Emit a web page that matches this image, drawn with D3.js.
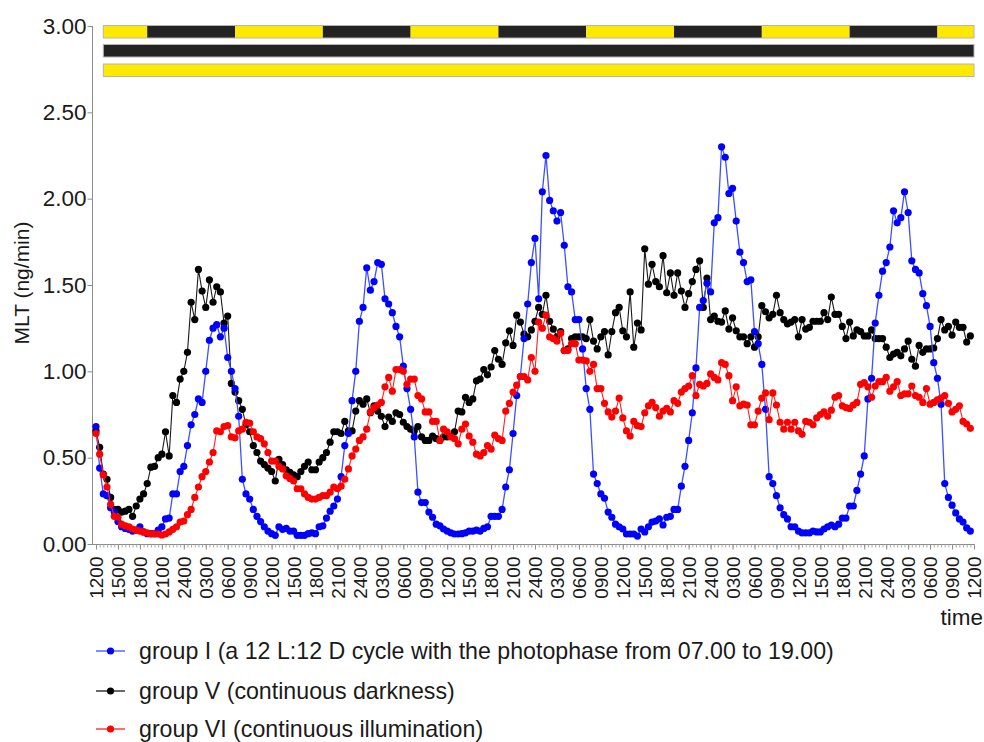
<!DOCTYPE html>
<html>
<head>
<meta charset="utf-8">
<script src="https://cdn.jsdelivr.net/npm/d3@7"></script>
<style>
  html, body { margin: 0; padding: 0; background: #fff; }
  svg { display: block; font-family: "Liberation Sans", Arial, sans-serif; }
</style>
</head>
<body>
<svg id="chart" width="984" height="742"></svg>
<script>
// Melatonin (MLT, ng/min) sampled every 30 min from 12:00 on day 1 (index 0)
const groupI = [
  0.68,0.44,0.29,0.28,0.21,0.185,0.13,0.10,0.09,0.085,
  0.075,0.08,0.10,0.07,0.06,0.06,0.06,0.08,0.10,0.145,
  0.15,0.29,0.29,0.42,0.45,0.57,0.69,0.75,0.84,0.82,
  1.00,1.18,1.25,1.27,1.20,1.25,1.08,1.00,0.90,0.74,
  0.375,0.29,0.26,0.20,0.16,0.13,0.10,0.075,0.06,0.05,
  0.10,0.085,0.09,0.075,0.075,0.05,0.05,0.05,0.06,0.065,
  0.06,0.10,0.105,0.15,0.19,0.22,0.26,0.39,0.57,0.64,
  0.83,1.00,1.29,1.37,1.60,1.47,1.52,1.63,1.62,1.42,
  1.39,1.34,1.26,1.20,1.03,0.90,0.78,0.62,0.30,0.24,
  0.24,0.185,0.155,0.115,0.105,0.087,0.075,0.065,0.058,0.058,
  0.06,0.065,0.075,0.075,0.08,0.075,0.09,0.10,0.16,0.16,
  0.16,0.20,0.33,0.43,0.64,0.86,0.97,1.19,1.39,1.63,
  1.77,1.42,2.04,2.25,1.99,1.93,1.87,1.92,1.73,1.49,
  1.46,1.30,1.30,1.13,0.90,0.78,0.405,0.35,0.29,0.265,
  0.185,0.155,0.115,0.10,0.087,0.058,0.058,0.058,0.046,0.087,
  0.07,0.10,0.127,0.133,0.145,0.11,0.155,0.16,0.20,0.20,
  0.335,0.45,0.60,0.76,1.02,1.37,1.41,1.51,1.46,1.86,
  1.89,2.30,2.24,2.03,2.06,1.87,1.69,1.63,1.52,1.53,
  1.23,1.16,1.04,0.78,0.39,0.35,0.28,0.21,0.17,0.145,
  0.10,0.10,0.075,0.064,0.064,0.064,0.075,0.07,0.07,0.087,
  0.10,0.11,0.10,0.115,0.15,0.15,0.22,0.22,0.31,0.405,
  0.51,0.84,0.96,1.28,1.44,1.58,1.63,1.72,1.93,1.86,
  1.89,2.04,1.92,1.64,1.59,1.57,1.45,1.38,1.26,1.05,
  0.96,0.81,0.35,0.27,0.225,0.18,0.145,0.127,0.093,0.075
];

const groupV = [
  0.655,0.56,0.405,0.375,0.27,0.20,0.20,0.185,0.19,0.20,
  0.16,0.22,0.26,0.29,0.35,0.445,0.45,0.50,0.52,0.65,
  0.51,0.86,0.82,0.955,1.00,1.11,1.40,1.30,1.59,1.465,
  1.37,1.53,1.40,1.49,1.46,1.28,1.32,0.93,0.88,0.83,
  0.78,0.69,0.65,0.57,0.53,0.48,0.46,0.44,0.42,0.365,
  0.49,0.46,0.43,0.415,0.40,0.39,0.42,0.45,0.475,0.43,
  0.43,0.475,0.50,0.53,0.59,0.65,0.65,0.64,0.71,0.655,
  0.655,0.77,0.83,0.81,0.84,0.76,0.80,0.77,0.74,0.68,
  0.735,0.71,0.76,0.75,0.705,0.68,0.665,0.655,0.68,0.62,
  0.60,0.60,0.625,0.61,0.60,0.62,0.62,0.625,0.65,0.77,
  0.765,0.85,0.82,0.84,0.945,0.955,1.01,0.98,1.025,1.12,
  1.07,1.04,1.165,1.235,1.15,1.325,1.285,1.215,1.20,1.24,
  1.29,1.37,1.33,1.44,1.29,1.245,1.20,1.23,1.12,1.13,
  1.19,1.20,1.20,1.20,1.19,1.30,1.175,1.13,1.20,1.23,
  1.095,1.23,1.34,1.37,1.235,1.20,1.46,1.14,1.28,1.24,
  1.71,1.505,1.62,1.52,1.49,1.67,1.455,1.57,1.44,1.57,
  1.465,1.37,1.45,1.52,1.59,1.64,1.37,1.54,1.30,1.32,
  1.29,1.285,1.35,1.245,1.31,1.235,1.20,1.20,1.16,1.20,
  1.14,1.20,1.38,1.345,1.31,1.33,1.44,1.34,1.30,1.275,
  1.285,1.30,1.20,1.30,1.245,1.255,1.29,1.29,1.29,1.34,
  1.30,1.43,1.33,1.33,1.26,1.19,1.285,1.205,1.24,1.23,
  1.205,1.205,1.24,1.19,1.19,1.19,1.14,1.08,1.10,1.11,
  1.09,1.13,1.175,1.07,1.03,1.15,1.11,1.13,1.13,1.135,
  1.19,1.30,1.24,1.26,1.21,1.285,1.255,1.255,1.17,1.205
];

const groupVI = [
  0.64,0.52,0.40,0.33,0.23,0.16,0.155,0.115,0.105,0.10,
  0.087,0.08,0.075,0.07,0.065,0.058,0.058,0.058,0.052,0.058,
  0.07,0.085,0.10,0.127,0.133,0.17,0.20,0.27,0.33,0.39,
  0.42,0.475,0.53,0.655,0.65,0.68,0.685,0.62,0.615,0.655,
  0.665,0.705,0.70,0.65,0.62,0.61,0.58,0.53,0.48,0.48,
  0.45,0.435,0.395,0.38,0.365,0.32,0.32,0.29,0.27,0.26,
  0.26,0.27,0.28,0.28,0.30,0.33,0.32,0.335,0.375,0.435,
  0.51,0.55,0.60,0.62,0.665,0.765,0.79,0.805,0.82,0.91,
  0.965,0.885,1.01,1.01,1.00,0.925,0.955,0.955,0.86,0.84,
  0.765,0.765,0.71,0.71,0.60,0.665,0.65,0.62,0.61,0.58,
  0.665,0.695,0.625,0.59,0.52,0.51,0.53,0.57,0.55,0.63,
  0.61,0.60,0.77,0.815,0.88,0.92,0.97,0.97,0.95,1.08,
  1.00,1.285,1.25,1.325,1.20,1.19,1.175,1.22,1.12,1.12,
  1.16,1.16,1.065,1.065,1.06,1.00,1.04,0.90,0.90,0.815,
  0.765,0.735,0.77,0.845,0.73,0.655,0.625,0.71,0.685,0.68,
  0.76,0.80,0.82,0.79,0.74,0.77,0.785,0.765,0.83,0.815,
  0.88,0.90,0.915,0.975,0.86,0.925,0.915,0.93,0.985,0.965,
  0.95,1.05,1.04,0.975,0.83,0.91,0.80,0.81,0.805,0.69,
  0.69,0.77,0.845,0.875,0.72,0.875,0.805,0.705,0.665,0.705,
  0.665,0.705,0.655,0.635,0.71,0.705,0.69,0.73,0.75,0.765,
  0.74,0.775,0.85,0.86,0.80,0.79,0.785,0.805,0.82,0.925,
  0.935,0.91,0.85,0.915,0.94,0.94,0.965,0.885,0.91,0.94,
  0.86,0.87,0.87,0.915,0.86,0.85,0.82,0.90,0.81,0.82,
  0.835,0.845,0.86,0.815,0.765,0.78,0.80,0.71,0.695,0.67
];

// Clock labels repeating every 3 h along the time axis
const clockLabels = ["1200","1500","1800","2100","2400","0300","0600","0900"];
const yTicks = [0, 0.5, 1, 1.5, 2, 2.5, 3];

const seriesNames = [
  "group I (a 12 L:12 D cycle with the photophase from 07.00 to 19.00)",
  "group V (continuous darkness)",
  "group VI (continuous illumination)"
];
const seriesColors = ["#0000ff", "#000000", "#ff0000"];
const lineColors = ["#3c50ff", "#1a1a1a", "#ff2020"];

// Lighting regimes: start hour of the bars, photophase 07–19 h
const barStartHour = 13;
const lightsOn = 7, lightsOff = 19;

const totalSlots = 240; // 5 days of half-hour slots

const svg = d3.select("#chart");
const x = d3.scaleLinear().domain([0, totalSlots]).range([96, 974]);
const y = d3.scaleLinear().domain([0, 3]).range([544, 26]);
const axisColor = "#8c8c8c";

// ---- top bars showing the lighting conditions ----
const slotHour = i => (12 + i / 2) % 24;
const firstSlot = (barStartHour - 12) * 2;
const ldRuns = [];
for (let i = firstSlot; i < totalSlots; i++) {
  const h = slotHour(i);
  const light = h >= lightsOn && h < lightsOff;
  const last = ldRuns[ldRuns.length - 1];
  if (last && last.light === light) last.end = i + 1;
  else ldRuns.push({ start: i, end: i + 1, light });
}
const barRows = [
  { top: 25.5, runs: ldRuns },
  { top: 44.5, runs: [{ start: firstSlot, end: totalSlots, light: false }] },
  { top: 64, runs: [{ start: firstSlot, end: totalSlots, light: true }] }
];
const barH = 12.5;
const bars = svg.append("g");
barRows.forEach(row => {
  bars.selectAll(null).data(row.runs).enter().append("rect")
    .attr("x", d => x(d.start))
    .attr("y", row.top)
    .attr("width", d => x(d.end) - x(d.start))
    .attr("height", barH)
    .attr("fill", d => d.light ? "#ffe900" : "#232323");
  bars.append("rect")
    .attr("x", x(firstSlot)).attr("y", row.top)
    .attr("width", x(totalSlots) - x(firstSlot)).attr("height", barH)
    .attr("fill", "none").attr("stroke", "#b4b4b4").attr("stroke-width", 1);
});

// ---- axes ----
const axisX0 = 92;
svg.append("line")
  .attr("x1", axisX0).attr("x2", x(totalSlots) + 1)
  .attr("y1", y(0) + 0.5).attr("y2", y(0) + 0.5)
  .attr("stroke", axisColor);
svg.append("line")
  .attr("x1", axisX0 + 0.5).attr("x2", axisX0 + 0.5)
  .attr("y1", y(3)).attr("y2", y(0) + 0.5)
  .attr("stroke", axisColor);

// minor ticks every half hour
const minorAxis = d3.axisBottom(x)
  .tickValues(d3.range(0, totalSlots + 1))
  .tickSize(3).tickFormat("");
const gMinor = svg.append("g").attr("transform", `translate(0,${y(0) + 0.5})`).call(minorAxis);
gMinor.select(".domain").remove();
gMinor.selectAll("line").attr("stroke", "#a8a8a8");

// major ticks every 3 h with clock labels
const majorValues = d3.range(0, totalSlots + 1, 6);
const xAxis = d3.axisBottom(x)
  .tickValues(majorValues)
  .tickSize(5)
  .tickFormat(d => clockLabels[(d / 6) % clockLabels.length]);
const gx = svg.append("g").attr("transform", `translate(0,${y(0) + 0.5})`).call(xAxis);
gx.select(".domain").remove();
gx.selectAll("line").attr("stroke", axisColor);
gx.selectAll("text")
  .attr("transform", "rotate(-90)")
  .attr("x", -12)
  .attr("y", 0)
  .attr("dy", "0.36em")
  .attr("text-anchor", "end")
  .attr("fill", "#1a1a1a")
  .style("font-size", "19px")
  .style("font-family", "'Liberation Sans', Arial, sans-serif");

const yAxis = d3.axisLeft(y).tickValues(yTicks).tickSize(5).tickFormat(d3.format(".2f"));
const gy = svg.append("g").attr("transform", `translate(${axisX0 + 0.5},0)`).call(yAxis);
gy.select(".domain").remove();
gy.selectAll("line").attr("stroke", axisColor);
gy.selectAll("text")
  .attr("x", -6)
  .attr("fill", "#1a1a1a")
  .style("font-size", "22.5px")
  .style("font-family", "'Liberation Sans', Arial, sans-serif");

svg.append("text")
  .attr("transform", `translate(29,283) rotate(-90)`)
  .attr("text-anchor", "middle")
  .attr("fill", "#1a1a1a")
  .style("font-size", "21px")
  .text("MLT (ng/min)");

svg.append("text")
  .attr("x", 983).attr("y", 625)
  .attr("text-anchor", "end")
  .attr("fill", "#1a1a1a")
  .style("font-size", "22.5px")
  .text("time");

// ---- series: line plus dots ----
const allSeries = [groupI, groupV, groupVI];
const drawOrder = [1, 0, 2];
const line = d3.line().x((d, i) => x(i)).y(d => y(d));
drawOrder.forEach(k => {
  const g = svg.append("g");
  g.append("path")
    .datum(allSeries[k])
    .attr("d", line)
    .attr("fill", "none")
    .attr("stroke", lineColors[k])
    .attr("stroke-width", k === 0 ? 1.3 : 1.1);
  g.selectAll("circle").data(allSeries[k]).enter().append("circle")
    .attr("cx", (d, i) => x(i))
    .attr("cy", d => y(d))
    .attr("r", 3.6)
    .attr("fill", seriesColors[k]);
});

// ---- legend ----
const legendRows = [651, 691, 729];
seriesNames.forEach((name, k) => {
  const g = svg.append("g").attr("transform", `translate(0,${legendRows[k]})`);
  g.append("line").attr("x1", 96).attr("x2", 125).attr("y1", 0).attr("y2", 0)
    .attr("stroke", lineColors[k]).attr("stroke-width", 1.3);
  g.append("circle").attr("cx", 110.5).attr("cy", 0).attr("r", 3.6).attr("fill", seriesColors[k]);
  g.append("text").attr("x", 139).attr("y", 0).attr("dy", "0.35em")
    .attr("fill", "#1a1a1a")
    .style("font-size", "23.2px")
    .text(name);
});
</script>
</body>
</html>
